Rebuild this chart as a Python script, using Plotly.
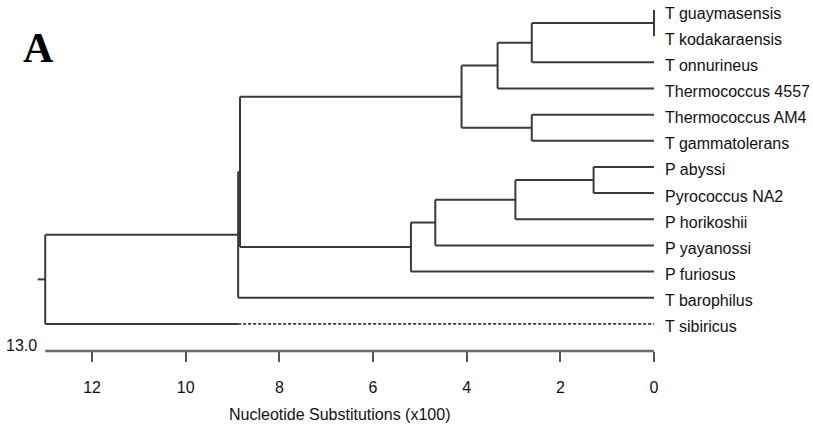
import plotly.graph_objects as go

# ---- data ----
leaf_names = ["T guaymasensis", "T kodakaraensis", "T onnurineus", "Thermococcus 4557",
              "Thermococcus AM4", "T gammatolerans", "P abyssi", "Pyrococcus NA2",
              "P horikoshii", "P yayanossi", "P furiosus", "T barophilus", "T sibiricus"]
leaf_height = [0.0] * len(leaf_names)

node_names = ["A", "B", "C", "D", "E", "F", "G", "H", "I", "J1", "J2", "K"]
node_height = [0.0, 2.61, 3.34, 2.61, 4.11, 1.29, 2.96, 4.67, 5.19, 8.84, 8.88, 13.0]
node_children = [
    ["T guaymasensis", "T kodakaraensis"],
    ["A", "T onnurineus"],
    ["B", "Thermococcus 4557"],
    ["Thermococcus AM4", "T gammatolerans"],
    ["C", "D"],
    ["P abyssi", "Pyrococcus NA2"],
    ["F", "P horikoshii"],
    ["G", "P yayanossi"],
    ["H", "P furiosus"],
    ["E", "I"],
    ["J1", "T barophilus"],
    ["J2", "T sibiricus"],
]
dashed_leaf = "T sibiricus"
dashed_from = 8.88
root_stub = 0.16

tick_vals = [0, 2, 4, 6, 8, 10, 12]
tick_text = ["0", "2", "4", "6", "8", "10", "12"]
scale_max_label = "13.0"
axis_title = "Nucleotide Substitutions (x100)"
panel_label = "A"

# ---- geometry from the tree ----
pos = {}
for i, n in enumerate(leaf_names):
    pos[n] = (leaf_height[i], float(i))
for n, h, ch in zip(node_names, node_height, node_children):
    ys = [pos[c][1] for c in ch]
    pos[n] = (h, sum(ys) / len(ys))

sx, sy, dx, dy = [], [], [], []
for n, h, ch in zip(node_names, node_height, node_children):
    ys = [pos[c][1] for c in ch]
    sx += [h, h, None]
    sy += [min(ys), max(ys), None]
    for c in ch:
        cx, cy = pos[c]
        if c == dashed_leaf:
            sx += [h, dashed_from, None]
            sy += [cy, cy, None]
            dx += [dashed_from, cx, None]
            dy += [cy, cy, None]
        else:
            sx += [h, cx, None]
            sy += [cy, cy, None]
root_x, root_y = pos[node_names[-1]]
sx += [root_x, root_x + root_stub, None]
sy += [root_y, root_y, None]

FONT = "Liberation Sans, Arial"
FS = 16
line_col = "#3a3a3a"
fig = go.Figure()
fig.add_trace(go.Scatter(x=sx, y=sy, mode="lines",
                         line=dict(color=line_col, width=2), hoverinfo="skip"))
fig.add_trace(go.Scatter(x=dx, y=dy, mode="lines",
                         line=dict(color=line_col, width=1.6, dash="3px,2px"), hoverinfo="skip"))

# leaf labels
for n in leaf_names:
    x, y = pos[n]
    fig.add_annotation(x=x, y=y, text=n, showarrow=False, xanchor="left", yanchor="middle",
                       xshift=9, yshift=-3,
                       font=dict(family=FONT, size=FS, color="#111"))

# scale axis line
fig.add_shape(type="line", xref="x", yref="paper", x0=node_height[-1], x1=0, y0=0, y1=0,
              line=dict(color="#6a6a6a", width=2.5))
fig.add_annotation(x=node_height[-1], y=0, xref="x", yref="paper", text=scale_max_label,
                   showarrow=False, xanchor="right", yanchor="middle", xshift=-6, yshift=6,
                   font=dict(family=FONT, size=FS, color="#111"))
fig.add_annotation(x=339 / 813, y=(351 - 414) / 351, xref="paper", yref="paper",
                   text=axis_title, showarrow=False, xanchor="center", yanchor="middle",
                   font=dict(family=FONT, size=FS, color="#111"))
fig.add_annotation(x=38 / 813, y=(351 - 48) / 351, xref="paper", yref="paper",
                   text="<b>" + panel_label + "</b>", showarrow=False, xanchor="center",
                   yanchor="middle",
                   font=dict(family="Liberation Serif, Times New Roman", size=42, color="#000"))

W, H = 813, 430
plot_bottom = 351
fig.update_layout(
    width=W, height=H, autosize=False,
    margin=dict(l=0, r=0, t=0, b=H - plot_bottom, pad=0),
    paper_bgcolor="white", plot_bgcolor="white", showlegend=False,
    xaxis=dict(range=[654 / 46.83, -(W - 654) / 46.83], showgrid=False, zeroline=False,
               showline=False, tickmode="array", tickvals=tick_vals, ticktext=tick_text,
               ticks="outside", ticklen=10, tickwidth=2, tickcolor="#555",
               ticklabelstandoff=12,
               tickfont=dict(family=FONT, size=FS, color="#111")),
    yaxis=dict(range=[(plot_bottom - 10) / 26.16, -10 / 26.16], showgrid=False,
               zeroline=False, showline=False, showticklabels=False, ticks=""),
)
fig.write_html("out.html")
